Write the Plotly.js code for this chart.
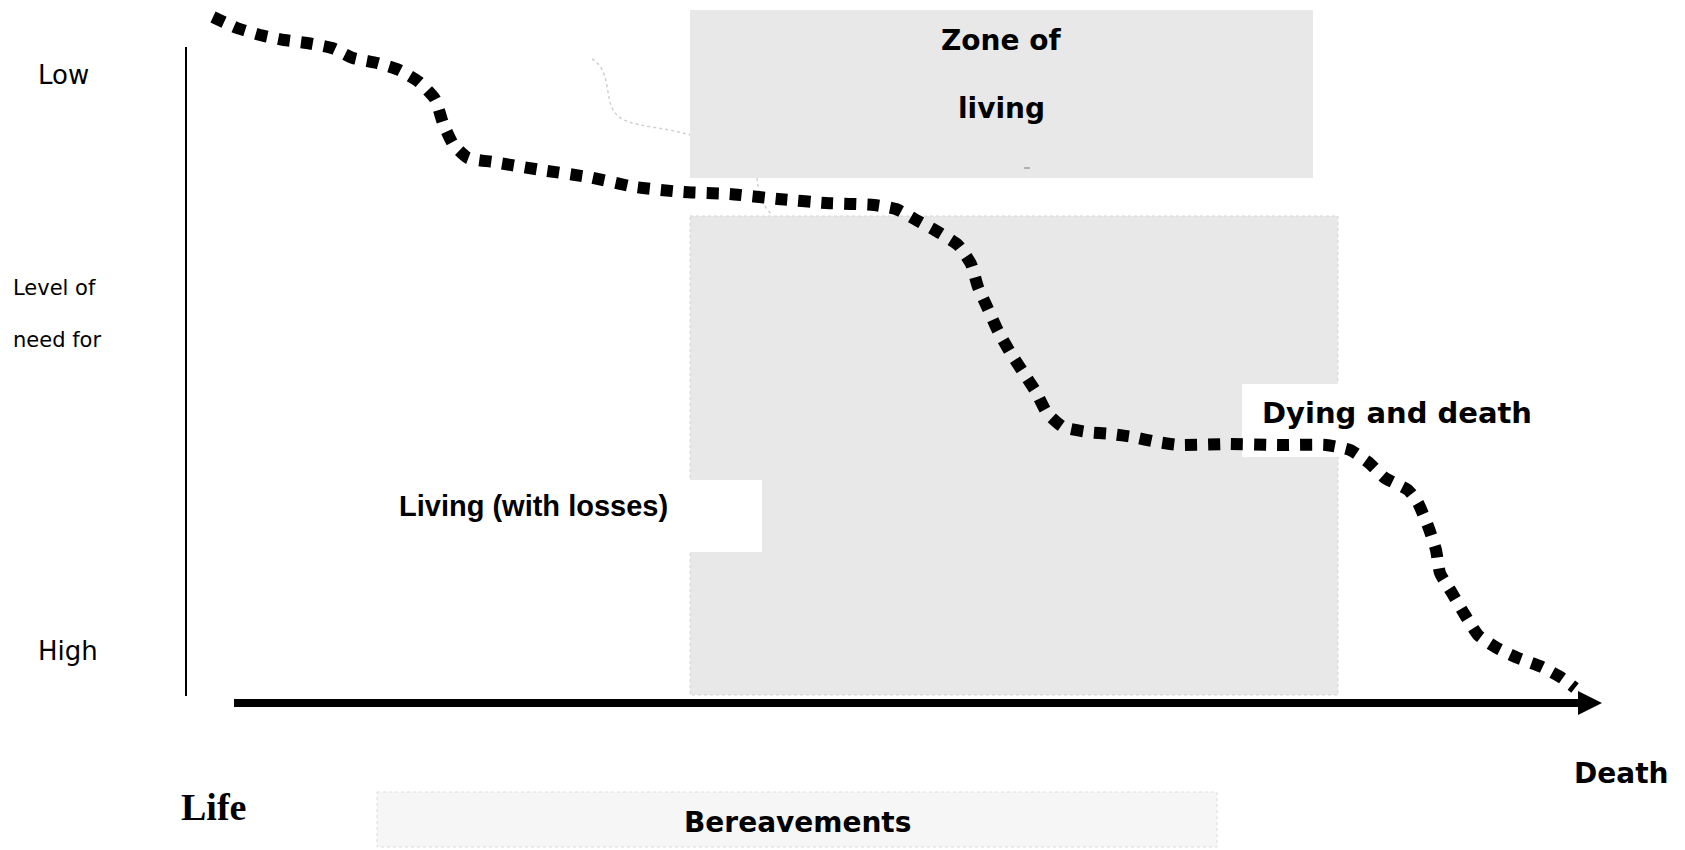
<!DOCTYPE html>
<html>
<head>
<meta charset="utf-8">
<script src="https://cdn.plot.ly/plotly-3.0.1.min.js"></script>
<style>html,body{margin:0;padding:0;background:#fff;}#chart{width:1685px;height:850px;}</style>
</head>
<body>
<div id="chart"></div>
<script>
// Trajectory of the "level of need" curve from Life to Death (diagram units = page pixels, y downwards)
const lifeX = [213,237,260,284,307,332,353,377,399,419,435,443,453,468,493,541,588,635,683,730,778,826,874,896,918,938,958,971,978,988,998,1010,1023,1036,1047,1063,1087,1111,1133,1157,1180,1229,1277,1326,1350,1368,1385,1408,1418,1428,1436,1440,1452,1465,1478,1497,1518,1542,1562,1575];
const needY = [17,28,35,40,43,48,58,63,70,82,99,123,144,158,162,170,177,187,192,194,199,203,205,209,221,232,245,264,287,309,331,352,372,392,413,427,432,434,437,442,445,444,445,445,450,462,478,490,503,526,550,573,593,615,635,648,658,667,678,688];

// Labels
const yLabels = ["Low", "Level of", "need for", "High"];
const zoneLabels = ["Zone of", "living"];
const phaseLabels = ["Living (with losses)", "Dying and death"];
const timeLabels = ["Life", "Death"];
const bandLabel = "Bereavements";

const GREY = "#e8e8e8";
const DJ = "DejaVu Sans, Verdana, sans-serif";
const AR = "Liberation Sans, Arial, sans-serif";
const TM = "Liberation Serif, Times New Roman, serif";

const shapes = [
  // Zone of living box
  {type:"rect", xref:"x", yref:"y", x0:690, x1:1313, y0:10, y1:178, fillcolor:GREY, line:{width:0}, layer:"below"},
  // big grey zone
  {type:"rect", xref:"x", yref:"y", x0:690, x1:1338, y0:216, y1:695, fillcolor:GREY, line:{width:1, color:"#d6d6d6", dash:"dot"}, layer:"below"},
  // white label boxes
  {type:"rect", xref:"x", yref:"y", x0:380, x1:762, y0:480, y1:552, fillcolor:"#ffffff", line:{width:0}, layer:"below"},
  {type:"rect", xref:"x", yref:"y", x0:1242, x1:1545, y0:384, y1:457, fillcolor:"#ffffff", line:{width:0}, layer:"below"},
  // Bereavements band
  {type:"rect", xref:"x", yref:"y", x0:377, x1:1217, y0:792, y1:847, fillcolor:"#f6f6f6", line:{width:1, color:"#dcdcdc", dash:"dot"}, layer:"below"},
  // faint connectors
  {type:"path", xref:"x", yref:"y", path:"M592,59 C604,66 606,80 608,92 C610,104 612,114 624,120 C640,127 668,128 690,135", line:{width:1.5, color:"#d0d0d0", dash:"dot"}, layer:"below"},
  {type:"path", xref:"x", yref:"y", path:"M757,178 L760,200 L771,214", line:{width:1.5, color:"#d0d0d0", dash:"dot"}, layer:"below"},
  {type:"line", xref:"x", yref:"y", x0:1024, x1:1030, y0:168, y1:168, line:{width:1, color:"#777"}, layer:"above"},
  // vertical axis
  {type:"line", xref:"x", yref:"y", x0:186, x1:186, y0:47, y1:696, line:{width:2, color:"#000"}},
  // time arrow
  {type:"line", xref:"x", yref:"y", x0:234, x1:1582, y0:703, y1:703, line:{width:8, color:"#000"}},
  {type:"path", xref:"x", yref:"y", path:"M1578,691 L1602,703 L1578,715 Z", fillcolor:"#000", line:{width:0}}
];

function ann(text, x, y, size, family, bold, xanchor) {
  return {text: bold ? "<b>"+text+"</b>" : text, x:x, y:y, xref:"x", yref:"y", showarrow:false,
    xanchor:xanchor||"center", yanchor:"middle", font:{size:size, family:family, color:"#000"}};
}

const annotations = [
  ann(yLabels[0], 36, 75, 26, DJ, false, "left"),
  ann(yLabels[1], 11, 288, 21, DJ, false, "left"),
  ann(yLabels[2], 11, 340, 21, DJ, false, "left"),
  ann(yLabels[3], 36, 651, 26, DJ, false, "left"),
  ann(zoneLabels[0], 1001, 40, 28, DJ, true),
  ann(zoneLabels[1], 1001, 108, 28, DJ, true),
  ann(phaseLabels[0], 533, 506, 29, AR, true),
  ann(phaseLabels[1], 1260, 413, 29, DJ, true, "left"),
  ann(timeLabels[0], 179, 807, 38, TM, true, "left"),
  ann(timeLabels[1], 1572, 773, 28, DJ, true, "left"),
  ann(bandLabel, 797, 822, 28, DJ, true)
];

const trace = {
  x: lifeX, y: needY, type:"scatter", mode:"lines",
  line:{color:"#000", width:12, dash:"12px,11px", shape:"spline", smoothing:0.5},
  hoverinfo:"skip", showlegend:false
};

const layout = {
  width:1685, height:850,
  margin:{l:0, r:0, t:0, b:0},
  paper_bgcolor:"#fff", plot_bgcolor:"#fff",
  xaxis:{range:[0,1685], visible:false, fixedrange:true},
  yaxis:{range:[850,0], visible:false, fixedrange:true},
  shapes:shapes, annotations:annotations, showlegend:false
};

Plotly.newPlot("chart", [trace], layout, {displayModeBar:false, staticPlot:true});
</script>
</body>
</html>
